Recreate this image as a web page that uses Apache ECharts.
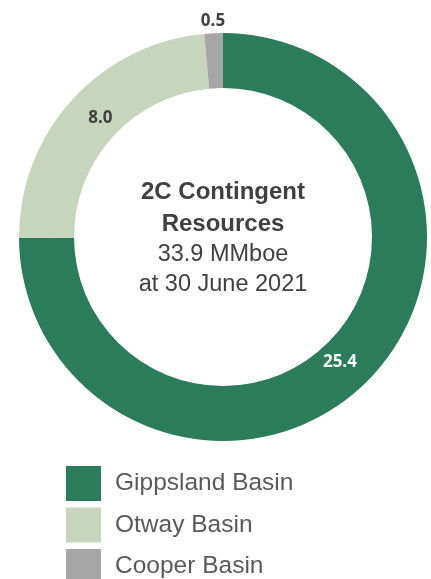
<!DOCTYPE html>
<html>
<head>
<meta charset="utf-8">
<script src="https://cdn.jsdelivr.net/npm/echarts@6/dist/echarts.min.js"></script>
<style>
  html, body { margin: 0; padding: 0; background: #ffffff; }
  #chart { width: 431px; height: 579px; }
</style>
</head>
<body>
<div id="chart"></div>
<script>
// 2C contingent resources by basin (MMboe)
const basins = ['Gippsland Basin', 'Otway Basin', 'Cooper Basin'];
const resources = [25.4, 8.0, 0.5];
const basinColors = ['#2a7c5b', '#c8d5bd', '#a6a6a6'];
const centreTitle = ['2C Contingent', 'Resources'];
const centreDetail = ['33.9 MMboe', 'at 30 June 2021'];

const chart = echarts.init(document.getElementById('chart'));

const CENTER = [223, 237];
const fmt = p => p.value.toFixed(1);
const valueFont = { fontFamily: 'Open Sans', fontWeight: 'bold', fontSize: 17 };

// the coloured ring itself
const ringData = basins.map((name, i) => ({
  name: name,
  value: resources[i],
  itemStyle: { color: basinColors[i] }
}));

// transparent companion rings carrying the value labels:
// large slices label inside the band, the tiny Cooper slice above the donut
const labelRing = (showFn, colorFn) => basins.map((name, i) => ({
  name: name,
  value: resources[i],
  itemStyle: { color: 'rgba(0,0,0,0)' },
  label: { show: showFn(i), color: colorFn(i) }
}));

const centreText =
  centreTitle.map(t => '{b|' + t + '}').join('\n') + '\n' +
  centreDetail.map(t => '{n|' + t + '}').join('\n');

chart.setOption({
  animation: false,
  title: {
    text: centreText,
    left: 223,
    top: 176,
    padding: 0,
    textAlign: 'center',
    textStyle: {
      rich: {
        b: { fontFamily: 'Liberation Sans', fontWeight: 'bold', fontSize: 24, color: '#404040', lineHeight: 32 },
        n: { fontFamily: 'Liberation Sans', fontWeight: 'normal', fontSize: 23.5, color: '#404040', lineHeight: 29.5 }
      }
    }
  },
  legend: {
    orient: 'vertical',
    left: 66,
    top: 466,
    padding: 0,
    height: 150,
    itemWidth: 35,
    itemHeight: 35,
    itemGap: 6.5,
    icon: 'rect',
    selectedMode: false,
    data: basins,
    textStyle: {
      fontFamily: 'Liberation Sans',
      fontSize: 24.5,
      color: '#595959',
      padding: [8, 0, 0, 9]
    }
  },
  series: [
    {
      type: 'pie',
      center: CENTER,
      radius: [149, 204],
      startAngle: 90,
      clockwise: true,
      silent: true,
      data: ringData,
      label: { show: false },
      labelLine: { show: false }
    },
    {
      type: 'pie',
      center: CENTER,
      radius: [132, 204],
      startAngle: 88,
      clockwise: true,
      silent: true,
      data: labelRing(i => i < 2, i => (i === 0 ? '#ffffff' : '#404040')),
      label: Object.assign({ position: 'inside', formatter: fmt }, valueFont),
      labelLine: { show: false }
    },
    {
      type: 'pie',
      center: CENTER,
      radius: [194, 232],
      startAngle: 90,
      clockwise: true,
      silent: true,
      data: labelRing(i => i === 2, () => '#404040'),
      label: Object.assign({ position: 'inside', formatter: fmt }, valueFont),
      labelLine: { show: false }
    }
  ]
});
</script>
</body>
</html>
